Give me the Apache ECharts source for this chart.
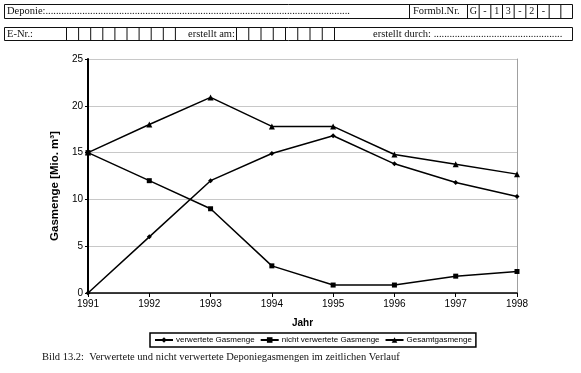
<!DOCTYPE html>
<html>
<head>
<meta charset="utf-8">
<script src="https://cdn.jsdelivr.net/npm/echarts@6/dist/echarts.min.js"></script>
<style>
html,body{margin:0;padding:0;background:#fff;}
#chart{width:581px;height:373px;}
</style>
</head>
<body>
<div id="chart"></div>
<script>
const years = ['1991','1992','1993','1994','1995','1996','1997','1998'];
const verwertet = [0, 6, 12, 14.9, 16.8, 13.8, 11.8, 10.3];
const nichtVerwertet = [15, 12, 9, 2.9, 0.85, 0.85, 1.8, 2.3];
const gesamt = [15, 18, 20.9, 17.8, 17.8, 14.8, 13.75, 12.7];
const seriesNames = ['verwertete Gasmenge', 'nicht verwertete Gasmenge', 'Gesamtgasmenge'];
const yAxisName = 'Gasmenge [Mio. m³]';
const xAxisName = 'Jahr';
const caption = 'Bild 13.2:  Verwertete und nicht verwertete Deponiegasmengen im zeitlichen Verlauf';
const formCodeCells = ['G','-','1','3','-','2','-','',''];

const chart = echarts.init(document.getElementById('chart'), null, {renderer:'canvas'});
const serif = '"Liberation Serif", "Times New Roman", serif';
const sans = '"Liberation Sans", Arial, sans-serif';

const mctx = document.createElement('canvas').getContext('2d');
function dotsToFill(prefix, font, width) {
  mctx.font = font;
  let s = prefix;
  while (mctx.measureText(s + '.').width <= width) s += '.';
  return s;
}

// decorative form header
const g = [];
function box(x, y, w, h, lw) {
  g.push({type:'rect', shape:{x:x, y:y, width:w, height:h}, style:{fill:'none', stroke:'#111', lineWidth:lw||1}, silent:true});
}
function vline(x, y1, y2) {
  g.push({type:'line', shape:{x1:x, y1:y1, x2:x, y2:y2}, style:{stroke:'#111', lineWidth:1}, silent:true});
}
function txt(x, y, s, size, align) {
  g.push({type:'text', x:x, y:y, style:{text:s, font: size + 'px ' + serif, fill:'#111', textAlign:align||'left', textVerticalAlign:'middle'}, silent:true});
}
const hf = 10.5;
// row 1
box(4.5, 4.5, 568, 14);
txt(7, 11.5, dotsToFill('Deponie:', hf + 'px ' + serif, 343), hf);
vline(409.5, 4.5, 18.5);
txt(413, 11.5, 'Formbl.Nr.', hf);
const c0 = 467.5, cw = (572.5 - 467.5) / formCodeCells.length;
for (let i = 0; i < formCodeCells.length; i++) {
  vline(c0 + i * cw, 4.5, 18.5);
  txt(c0 + i * cw + cw / 2, 11.5, formCodeCells[i], 10, 'center');
}
// row 2
box(4.5, 27.5, 568, 13);
txt(7, 34, 'E-Nr.:', hf);
for (let i = 0; i <= 9; i++) vline(66.5 + i * 12.1, 27.5, 40.5);
txt(188, 34, 'erstellt am:', hf);
for (let i = 0; i <= 8; i++) vline(236.5 + i * 12.25, 27.5, 40.5);
txt(373, 34, dotsToFill('erstellt durch: ', hf + 'px ' + serif, 190), hf);
// caption
txt(42, 357, caption, 10.5);

const baseSeries = {
  type:'line',
  color:'#000',
  lineStyle:{color:'#000', width:1.5},
  itemStyle:{color:'#000'},
  animation:false
};

chart.setOption({
  animation:false,
  backgroundColor:'#fff',
  grid:{left:88, right:64, top:59, bottom:80, containLabel:false},
  legend:{
    left:150, top:333,
    padding:[3,4,3,4],
    borderColor:'#000', borderWidth:1.5,
    itemGap:5, itemWidth:18, itemHeight:7,
    textStyle:{fontFamily:sans, fontSize:8, color:'#000', padding:[0,0,0,-2]},
    data:seriesNames
  },
  xAxis:{
    type:'category', data:years, boundaryGap:false,
    name:xAxisName, nameLocation:'middle', nameGap:25,
    nameTextStyle:{fontFamily:sans, fontSize:10, fontWeight:'bold', color:'#000'},
    axisLine:{lineStyle:{color:'#000', width:1.5}},
    axisTick:{show:true, length:4, inside:false, lineStyle:{color:'#000'}, alignWithLabel:true},
    axisLabel:{fontFamily:sans, fontSize:10, color:'#000', margin:6},
    splitLine:{show:false}
  },
  yAxis:[{
    type:'value', min:0, max:25, interval:5,
    name:yAxisName, nameLocation:'middle', nameGap:26, nameRotate:90,
    nameTextStyle:{fontFamily:sans, fontSize:11.5, fontWeight:'bold', color:'#000', padding:[0,20,0,0]},
    axisLine:{show:true, lineStyle:{color:'#000', width:2}},
    axisTick:{show:true, length:3, lineStyle:{color:'#000'}},
    axisLabel:{fontFamily:sans, fontSize:10, color:'#000', margin:5},
    splitLine:{show:true, lineStyle:{color:'#c8c8c8', width:1}}
  },{
    type:'value', min:0, max:25, interval:5, position:'right',
    axisLine:{show:true, lineStyle:{color:'#a0a0a0', width:1}},
    axisTick:{show:false}, axisLabel:{show:false}, splitLine:{show:false}
  }],
  series:[
    Object.assign({}, baseSeries, {name:seriesNames[0], data:verwertet, symbol:'diamond', symbolSize:5}),
    Object.assign({}, baseSeries, {name:seriesNames[1], data:nichtVerwertet, symbol:'rect', symbolSize:5}),
    Object.assign({}, baseSeries, {name:seriesNames[2], data:gesamt, symbol:'triangle', symbolSize:6})
  ],
  graphic:g
});
</script>
</body>
</html>
